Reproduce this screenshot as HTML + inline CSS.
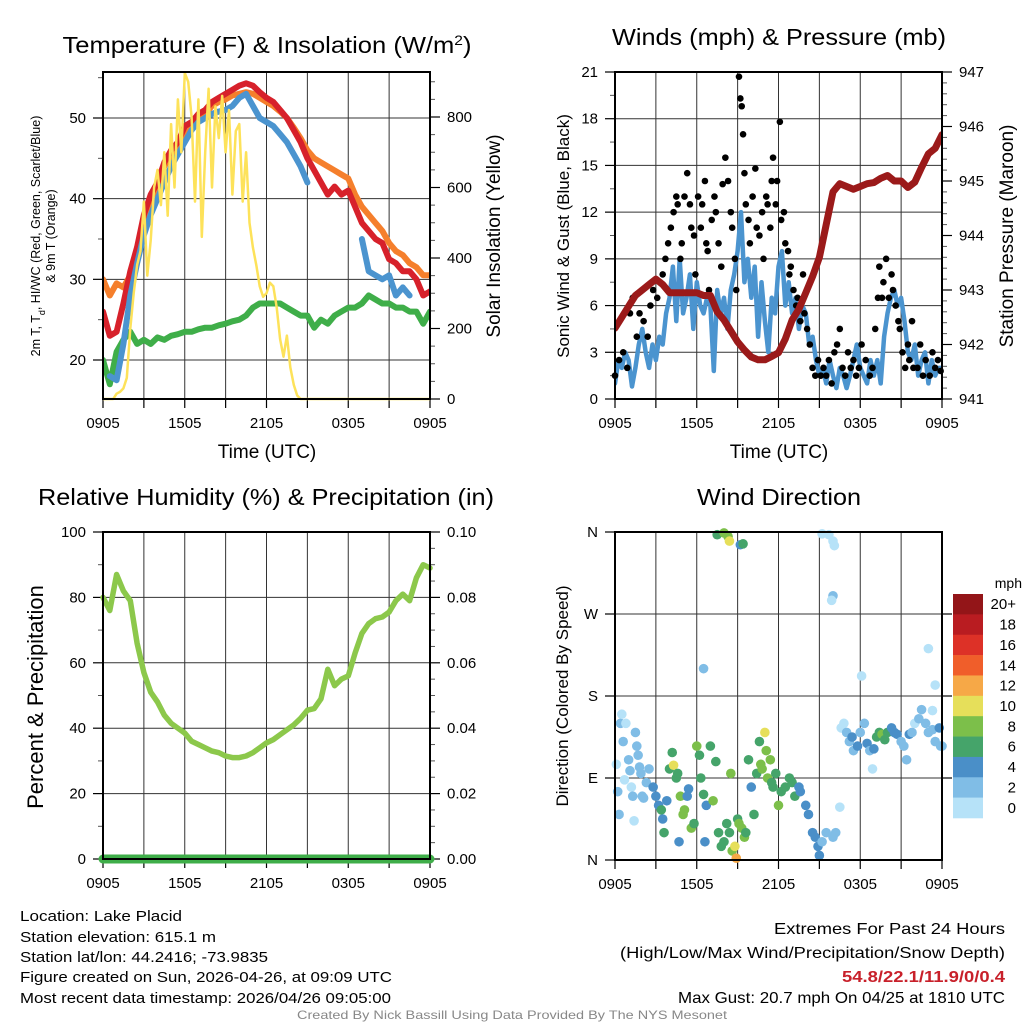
<!DOCTYPE html>
<html><head><meta charset="utf-8"><style>
html,body{margin:0;padding:0;background:#fff}
svg{display:block;font-family:"Liberation Sans",sans-serif}
</style></head><body>
<svg id="chart" width="1024" height="1024" viewBox="0 0 1024 1024" xmlns="http://www.w3.org/2000/svg">
<rect width="1024" height="1024" fill="#fff"/>
<g id="panels"></g>
<text x="267" y="53" font-size="23" text-anchor="middle" textLength="409" lengthAdjust="spacingAndGlyphs">Temperature (F) &amp; Insolation (W/m<tspan baseline-shift="super" font-size="14">2</tspan>)</text>
<text x="779" y="45" font-size="23" text-anchor="middle" textLength="334" lengthAdjust="spacingAndGlyphs">Winds (mph) &amp; Pressure (mb)</text>
<text x="266" y="505" font-size="23" text-anchor="middle" textLength="456" lengthAdjust="spacingAndGlyphs">Relative Humidity (%) &amp; Precipitation (in)</text>
<text x="779" y="505" font-size="23" text-anchor="middle" textLength="164" lengthAdjust="spacingAndGlyphs">Wind Direction</text>
<text x="267" y="458" font-size="19" text-anchor="middle">Time (UTC)</text>
<text x="779" y="458" font-size="19" text-anchor="middle">Time (UTC)</text>
<text transform="translate(40,236) rotate(-90)" font-size="12.5" text-anchor="middle">2m T, T<tspan baseline-shift="sub" font-size="9">d</tspan>, HI/WC (Red, Green, Scarlet/Blue)</text>
<text transform="translate(55,236) rotate(-90)" font-size="12.5" text-anchor="middle">&amp; 9m T (Orange)</text>
<text transform="translate(500,236) rotate(-90)" font-size="19" text-anchor="middle">Solar Insolation (Yellow)</text>
<text transform="translate(569,236) rotate(-90)" font-size="17" text-anchor="middle">Sonic Wind &amp; Gust (Blue, Black)</text>
<text transform="translate(1013,236) rotate(-90)" font-size="19" text-anchor="middle">Station Pressure (Maroon)</text>
<text transform="translate(43,697) rotate(-90)" font-size="22" text-anchor="middle">Percent &amp; Precipitation</text>
<text transform="translate(568,696) rotate(-90)" font-size="17" text-anchor="middle">Direction (Colored By Speed)</text>
<text x="1022" y="588" font-size="14" text-anchor="end">mph</text>
<g font-size="15">
<text x="20" y="921" textLength="162" lengthAdjust="spacingAndGlyphs">Location: Lake Placid</text>
<text x="20" y="942" textLength="196" lengthAdjust="spacingAndGlyphs">Station elevation: 615.1 m</text>
<text x="20" y="962" textLength="248" lengthAdjust="spacingAndGlyphs">Station lat/lon: 44.2416; -73.9835</text>
<text x="20" y="982" textLength="372" lengthAdjust="spacingAndGlyphs">Figure created on Sun, 2026-04-26, at 09:09 UTC</text>
<text x="20" y="1003" textLength="371" lengthAdjust="spacingAndGlyphs">Most recent data timestamp: 2026/04/26 09:05:00</text>
</g>
<g font-size="16" text-anchor="end">
<text x="1005" y="934" textLength="231" lengthAdjust="spacingAndGlyphs">Extremes For Past 24 Hours</text>
<text x="1005" y="958" textLength="385" lengthAdjust="spacingAndGlyphs">(High/Low/Max Wind/Precipitation/Snow Depth)</text>
<text x="1005" y="982" font-weight="bold" fill="#c8202a" textLength="163" lengthAdjust="spacingAndGlyphs">54.8/22.1/11.9/0/0.4</text>
<text x="1005" y="1003" textLength="327" lengthAdjust="spacingAndGlyphs">Max Gust: 20.7 mph On 04/25 at 1810 UTC</text>
</g>
<text x="512" y="1019" font-size="12" fill="#888" text-anchor="middle" textLength="430" lengthAdjust="spacingAndGlyphs">Created By Nick Bassill Using Data Provided By The NYS Mesonet</text>
</svg>
<script>
const timeTicks = ["0905","1505","2105","0305","0905"];
const tempRed = [26,23,23.5,27,31,34,38,40.5,42,44.5,46,47,49,49.5,50.5,51,52,52.5,53,53.5,54,54.3,54,53.2,52.5,52,51,50,48.5,47,45,43.5,42,40.5,41.5,40.5,41,39,37,36,35,34.5,32.5,32,31,31,30,28,28.5];
const temp9m = [30,28,29.5,29,30.5,33.5,37.5,40,41.5,44,45.5,46.5,48.5,49,50,50.5,51.5,52,52.3,52.8,53,53.2,53,52.5,52,51.5,50.8,50,48.8,47.5,46,45,44.5,44,43.5,43,42.5,40.5,39,38,37,36,34.5,33.5,33,32,31.5,30.5,30.5];
const tempHiWc = [null,18,17.5,22,28,32,35.5,38,40,42,44,45.5,47,48.5,49.5,50,50.5,50.8,51,51.5,52.5,53,51.5,50,49.5,49,48,47,45.5,44,42,null,null,null,null,39.5,null,null,35,31,30.5,30,30.5,28,29,28,null,27,null];
const dewpoint = [20,17,21,22.5,23.5,22,22.5,22,22.8,22.5,23,23.2,23.5,23.5,23.8,24,24,24.3,24.5,24.8,25,25.5,26.5,27,27,27,27,26.5,26,25.5,25.5,24,25,24.5,25.5,26,26.5,26.5,27,28,27.5,27,27,26.5,26.5,26,26,24.5,26];
const solar = [0,0,0,0,15,20,30,60,200,300,380,420,560,350,450,600,650,550,700,520,780,600,850,700,925,900,800,560,850,460,700,880,600,830,740,860,700,820,580,760,780,560,700,500,430,380,320,290,300,330,320,260,170,120,180,90,40,10,0,0,0,0,0,0,0,0,0,0,0,0,0,0,0,0,0,0,0,0,0,0,0,0,0,0,0,0,0,0,0,0,0,0,0,0,0,0,0];
const windSpeed = [1.0,2.5,2.0,3.0,2.5,0.8,2.0,3.5,4.5,3.0,2.0,3.5,2.5,4.0,3.5,5.5,6.5,8.5,5.0,9.0,5.5,6.5,8.0,4.5,7.5,6.0,5.5,6.5,6.0,1.8,7.0,5.5,6.5,4.5,7.0,8.0,9.5,12.0,7.5,9.0,6.5,8.5,4.0,7.5,5.0,3.0,6.5,5.5,8.5,9.5,6.0,7.5,5.5,6.5,4.5,6.0,5.5,3.5,4.0,2.5,1.5,2.0,1.0,2.5,1.5,0.7,2.0,1.5,0.7,1.5,2.5,3.5,2.0,1.5,1.0,2.5,1.5,2.5,1.0,4.0,5.5,6.5,7.0,6.0,6.5,5.0,3.0,2.5,3.5,1.5,2.5,3.0,1.0,2.5,1.5,2.0,2.0];
const gustTime = [0,0.3,0.6,0.9,1.1,1.3,1.6,1.8,2.1,2.4,2.6,2.8,3.1,3.3,3.5,3.7,3.9,4.1,4.3,4.5,4.6,4.8,4.9,5.1,5.3,5.5,5.6,5.8,5.9,6.1,6.3,6.4,6.6,6.7,6.8,6.9,7.1,7.3,7.4,7.6,7.8,7.9,8.1,8.3,8.5,8.6,8.8,8.9,9.1,9.2,9.3,9.4,9.5,9.6,9.8,9.9,10.1,10.3,10.4,10.6,10.8,10.9,11.1,11.2,11.4,11.5,11.6,11.8,11.9,12.1,12.2,12.4,12.5,12.7,12.8,12.9,13.1,13.3,13.4,13.6,13.8,13.9,14.1,14.3,14.5,14.7,14.9,15.1,15.3,15.5,15.7,15.9,16.1,16.3,16.5,16.7,16.9,17.1,17.3,17.5,17.7,17.9,18.1,18.4,18.7,18.9,19.1,19.3,19.4,19.6,19.7,19.9,20.1,20.3,20.4,20.6,20.8,20.9,21.1,21.3,21.5,21.6,21.8,21.9,22.2,22.4,22.6,22.8,23.1,23.3,23.5,23.7,23.9];
const gustSpeed = [1.5,2.5,3,2,5.5,6.5,4,5.5,5,4,6,7,6.5,7.5,8,9,10,11,12,13,12.5,9,10,13,14.5,12.5,11,10.5,8,13,11,12.5,14,10,9.5,7,11.5,13,12,10,8.5,13.8,15.5,14,12,11,9,7,20.7,19.3,18.8,17,14.5,12.5,11.5,10,13,14.8,11,10.5,12,9,13,12.5,11,14,15.5,12.5,14,17.8,11.5,12,10,9.5,8,8.5,7,6,6.5,5,8,5.5,4.5,3.5,2,1.5,2.5,1.5,2,1.5,2.5,1,3,3.5,4.5,2,1.5,3,2,2.5,1.5,2,3.5,2.5,1.5,2,4.5,6.5,8.5,6.5,7.5,9,6.5,8,7,6,5,4.5,3,2,3.5,2.5,5,2,2,3.5,1.5,2.5,1.5,3,2,2.5,1.8];
const pressure = [942.3,942.5,942.7,942.9,943.0,943.1,943.2,943.1,942.95,942.95,942.95,942.95,942.95,942.9,942.9,942.6,942.45,942.25,942.05,941.9,941.77,941.72,941.72,941.78,941.85,942.1,942.45,942.65,942.95,943.25,943.6,944.2,944.8,944.95,944.9,944.85,944.9,944.95,944.97,945.05,945.1,945.0,945.0,944.88,944.98,945.25,945.5,945.6,945.85];
const humidity = [80,76,87,82,79,66,57,51,48,44,41.5,40,38.5,36,35,34,33,32.5,31.5,31,31,31.5,32.5,34,35.5,36.5,38,39.5,41,43,45.5,46,49,58,53,55,56,63,69,72,73.5,74,75.5,79,81,79,86,90,89];
const precip = [0,0,0,0,0,0,0,0,0,0,0,0,0,0,0,0,0,0,0,0,0,0,0,0,0,0,0,0,0,0,0,0,0,0,0,0,0,0,0,0,0,0,0,0,0,0,0,0,0];
const dirTime = [0.1,0.2,0.3,0.4,0.5,0.6,0.7,0.8,1.0,1.1,1.2,1.3,1.4,1.5,1.6,1.7,1.8,1.9,2.0,2.1,2.3,2.5,2.8,3.0,3.2,3.4,3.5,3.6,3.8,4.0,4.2,4.3,4.5,4.6,4.7,4.8,5.0,5.1,5.3,5.4,5.6,5.8,6.0,6.2,6.3,6.5,6.6,6.7,7.0,7.2,7.4,7.6,7.8,8.0,8.2,8.4,8.5,8.6,8.8,8.9,9.0,7.5,8.0,8.3,8.4,9.2,9.4,6.5,9.1,9.3,9.5,9.6,9.8,10.0,10.2,10.4,10.6,10.7,10.8,11.0,11.1,11.2,11.4,11.5,11.6,11.8,12.0,12.2,12.5,12.8,13.0,13.2,13.5,13.6,14.0,14.2,14.5,14.7,14.9,15.0,15.2,15.5,16.0,16.2,16.5,15.2,15.7,16.0,16.1,16.0,15.9,16.6,16.8,17.0,17.2,17.4,17.5,17.8,18.0,18.3,18.5,18.7,18.9,19.0,19.2,19.4,19.6,19.8,20.0,20.3,20.5,20.7,21.0,21.2,21.4,21.6,21.8,22.0,22.3,22.5,22.8,23.0,23.3,23.5,23.8,23.9,24.0,18.1,23.0,23.5,23.3];
const dirDeg = [105,75,50,150,160,130,88,150,110,98,80,70,43,140,125,115,102,95,70,68,85,100,80,70,60,55,45,30,65,100,118,104,90,95,20,70,50,55,70,78,35,40,125,115,90,72,20,60,125,65,108,30,15,20,40,30,95,10,15,2,45,357,359,355,350,346,347,210,40,35,25,30,110,80,50,95,130,105,100,140,120,90,110,85,80,95,60,75,80,90,85,70,80,75,60,50,30,25,15,5,20,30,25,30,58,358,357,350,345,290,285,145,150,140,130,135,120,125,140,150,128,120,100,122,135,140,138,132,140,145,140,138,130,125,110,138,140,150,155,165,150,140,143,130,145,125,125,202,232,192,164];
const dirSpeed = [1,2,2,2,1,3,1,1,2,2,1,2,0,3,2,3,2,3,2,3,2,2,4,4,4,6,4,6,4,6,6,10,6,6,4,8,8,8,4,4,8,6,8,6,6,6,4,4,6,8,6,6,6,6,6,6,8,8,10,12,6,6,8,8,10,4,6,2,8,8,8,6,6,4,6,6,6,8,8,10,8,8,8,6,6,6,8,6,6,6,6,6,4,4,4,4,4,4,4,4,2,2,2,2,0,0,0,0,0,2,0,0,0,2,2,4,2,4,2,2,4,2,0,4,6,6,8,6,6,4,4,4,2,2,2,4,2,0,2,2,2,2,2,2,4,2,2,0,0,0,0];
const speedLabels = ["0","2","4","6","8","10","12","14","16","18","20+"];
const speedColors = ["#b6e2f8","#80bde6","#4a8fc8","#45a46a","#7cbf4a","#e6df5a","#f6a847","#f05e2a","#dd3127","#b91c21","#931518"];

const NS = "http://www.w3.org/2000/svg";
const root = document.getElementById('panels');
function mk(tag, parent){ const e = document.createElementNS(NS, tag); parent.appendChild(e); return e; }
function at(e, o){ for (const k in o) e.setAttribute(k, o[k]); return e; }
function lin(d0,d1,r0,r1){ return v => r0 + (v-d0)/(d1-d0)*(r1-r0); }

function panel(name, x0, x1, y0, y1){
  const g = mk('g', root);
  
  
  return {g, x0, x1, y0, y1, xs: lin(0,24,x0,x1)};
}
function grid(P){
  for (let h = 3; h < 24; h += 3){
    const l = mk('line', P.g);
    at(l, {x1:P.xs(h), x2:P.xs(h), y1:P.y0, y2:P.y1, stroke:'#333', 'stroke-width':1});
    
    
  }
  for (let h = 0; h <= 24; h += 3){
    const t = mk('line', P.g);
    at(t, {x1:P.xs(h), x2:P.xs(h), y1:P.y1, y2:P.y1+9, stroke:'#000', 'stroke-width':1.2});
    
    
  }
  timeTicks.forEach((lab, i) => {
    const t = mk('text', P.g);
    at(t, {x:P.xs(i*6), y:P.y1+29, 'font-size':15, 'text-anchor':'middle'});
    t.textContent = lab;
    
    
  });
}
function yAxis(P, scale, majors, labels, minors, side, gridOn){
  const x = side === 'left' ? P.x0 : P.x1;
  const dir = side === 'left' ? -1 : 1;
  majors.forEach((v, i) => {
    const y = scale(v);
    if (gridOn && y > P.y0 + 1 && y < P.y1 - 1){
      const gl = mk('line', P.g);
      at(gl, {x1:P.x0, x2:P.x1, y1:y, y2:y, stroke:'#333', 'stroke-width':1});
      
      
    }
    const t = mk('line', P.g);
    at(t, {x1:x, x2:x+dir*10, y1:y, y2:y, stroke:'#000', 'stroke-width':1.2});
    
    
    const tx = mk('text', P.g);
    at(tx, {x:x+dir*17, y:y+5, 'font-size':15, 'text-anchor': side==='left'?'end':'start'});
    tx.textContent = labels[i];
    
    
  });
  minors.forEach(v => {
    const y = scale(v);
    const t = mk('line', P.g);
    at(t, {x1:x, x2:x+dir*5, y1:y, y2:y, stroke:'#555', 'stroke-width':1});
    
    
  });
}
function frame(P){
  const r = mk('rect', P.g);
  at(r, {x:P.x0, y:P.y0, width:P.x1-P.x0, height:P.y1-P.y0, fill:'none', stroke:'#000', 'stroke-width':2});
  
  
}
function clipFor(P, id){
  const cp = mk('clipPath', P.g); cp.setAttribute('id', id);
  const r = mk('rect', cp); at(r, {x:P.x0, y:P.y0-2, width:P.x1-P.x0, height:P.y1-P.y0+4});
  return 'url(#' + id + ')';
}
function series(P, vals, step, ys, color, width, name, clip){
  let d = '', pen = false;
  vals.forEach((v, i) => {
    if (v === null){ pen = false; return; }
    d += (pen ? 'L' : 'M') + P.xs(i*step).toFixed(1) + ',' + ys(v).toFixed(1);
    pen = true;
  });
  const p = mk('path', P.g);
  at(p, {d, fill:'none', stroke:color, 'stroke-width':width, 'stroke-linejoin':'round', 'stroke-linecap':'round'});
  if (clip) p.setAttribute('clip-path', clip);
  
  
}
function range(a,b,s){ const r=[]; for(let v=a; v<=b+1e-9; v+=s) r.push(+v.toFixed(4)); return r; }

{
  const P = panel('temperature-panel', 103, 430, 72, 399);
  const yL = lin(20, 50, 360, 118);
  const yR = lin(0, 800, 399, 117);
  grid(P);
  yAxis(P, yL, [20,30,40,50], ["20","30","40","50"], [25,35,45,55], 'left', true);
  yAxis(P, yR, [0,200,400,600,800], ["0","200","400","600","800"], [50,100,150,250,300,350,450,500,550,650,700,750,850,900], 'right', false);
  const c = clipFor(P, 'clip1');
  series(P, dewpoint, 0.5, yL, '#3fae49', 6, 'dewpoint-line', c);
  series(P, temp9m, 0.5, yL, '#f57f2c', 6, 'temp-9m-line', c);
  series(P, tempRed, 0.5, yL, '#d7212b', 6, 'temp-2m-line', c);
  series(P, tempHiWc, 0.5, yL, '#4b94cf', 6, 'heat-index-windchill-line', c);
  series(P, solar, 0.25, yR, '#fde25a', 2.5, 'solar-insolation-line', c);
  frame(P);
}
{
  const P = panel('winds-panel', 615, 942, 72, 399);
  const yL = lin(0, 21, 399, 72);
  const yR = lin(941, 947, 399, 72);
  grid(P);
  yAxis(P, yL, [0,3,6,9,12,15,18,21], ["0","3","6","9","12","15","18","21"], [1.5,4.5,7.5,10.5,13.5,16.5,19.5], 'left', true);
  yAxis(P, yR, [941,942,943,944,945,946,947], ["941","942","943","944","945","946","947"], range(941.2,946.8,0.2).filter(v => Math.abs(v-Math.round(v))>0.05), 'right', false);
  const c = clipFor(P, 'clip2');
  series(P, windSpeed, 0.25, yL, '#4b94cf', 4.5, 'sonic-wind-line', c);
  gustTime.forEach((t, i) => {
    const d = mk('circle', P.g);
    at(d, {cx:P.xs(t), cy:yL(gustSpeed[i]), r:3.3, fill:'#000'});
    
    
  });
  series(P, pressure, 0.5, yR, '#9b1a1a', 7, 'pressure-line', c);
  frame(P);
}
{
  const P = panel('humidity-panel', 103, 430, 532, 859);
  const yL = lin(0, 100, 859, 532);
  const yR = lin(0, 0.1, 859, 532);
  grid(P);
  yAxis(P, yL, [0,20,40,60,80,100], ["0","20","40","60","80","100"], [10,30,50,70,90], 'left', true);
  yAxis(P, yR, [0,0.02,0.04,0.06,0.08,0.1], ["0.00","0.02","0.04","0.06","0.08","0.10"], range(0.005,0.095,0.005).filter(v => Math.abs(v*50-Math.round(v*50))>0.01), 'right', false);
  series(P, humidity, 0.5, yL, '#8cc84b', 5.5, 'humidity-line', null);
  series(P, precip, 0.5, yR, '#3fae49', 9, 'precipitation-line', null);
  frame(P);
}
{
  const P = panel('wind-direction-panel', 615, 942, 532, 860);
  const yD = lin(0, 360, 860, 532);
  grid(P);
  yAxis(P, yD, [0,90,180,270,360], ["N","E","S","W","N"], [], 'left', true);
  [90,180,270].forEach(v => {
    const t = mk('line', P.g);
    at(t, {x1:P.x1, x2:P.x1+10, y1:yD(v), y2:yD(v), stroke:'#000', 'stroke-width':1.2});
    
    
  });
  dirTime.forEach((t, i) => {
    const d = mk('circle', P.g);
    const bin = Math.min(10, Math.floor(dirSpeed[i]/2));
    at(d, {cx:P.xs(t), cy:yD(dirDeg[i]), r:4.8, fill:speedColors[bin]});
    
    
  });
  frame(P);
  const cb = mk('g', root);
  
  
  const h = (818-594)/speedColors.length;
  for (let k = 0; k < speedColors.length; k++){
    const idx = speedColors.length - 1 - k;
    const r = mk('rect', cb);
    at(r, {x:953, y:594 + k*h, width:30, height:h+0.3, fill:speedColors[idx]});
    
    
    const tx = mk('text', cb);
    at(tx, {x:1016, y:594 + k*h + h/2 + 5, 'font-size':15, 'text-anchor':'end'});
    tx.textContent = speedLabels[idx];
    
    
  }
}
</script>
</body></html>
